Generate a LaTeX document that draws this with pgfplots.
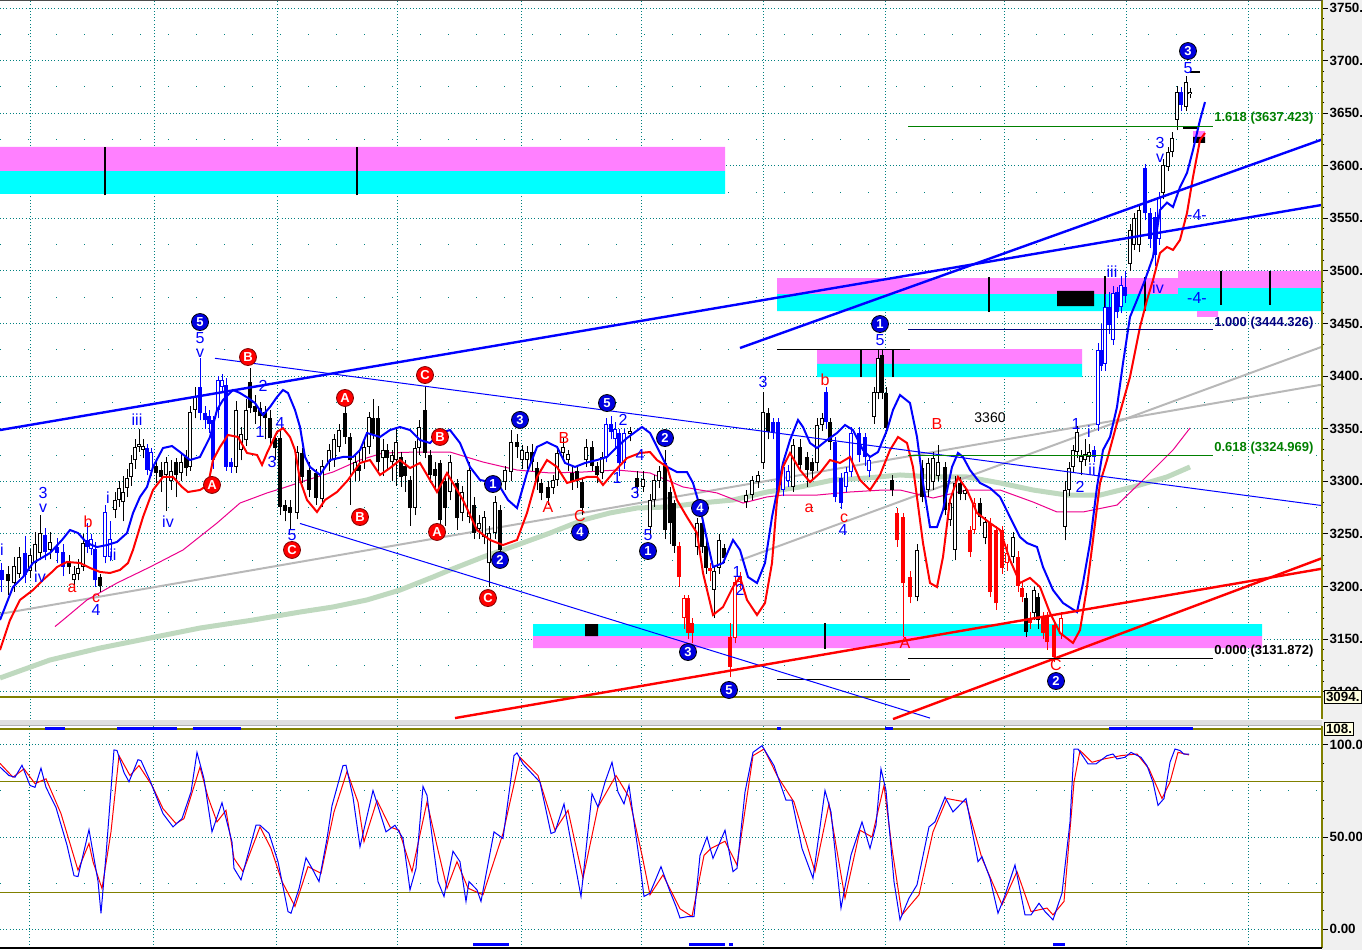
\documentclass[border=0pt]{standalone}
\usepackage{pgfplots}
\pgfplotsset{compat=1.18}
\usepackage{pgfplotstable}
\usepackage{fontspec}
\setmainfont{Liberation Sans}
\definecolor{zpink}{HTML}{FF80FF}
\definecolor{zcyan}{HTML}{00FFFF}
\definecolor{wblue}{HTML}{0000FF}
\definecolor{cblue}{HTML}{0000E0}
\definecolor{wred}{HTML}{FF0000}
\definecolor{gridc}{HTML}{008080}
\definecolor{olivec}{HTML}{808000}
\definecolor{grayl}{HTML}{B8B8B8}
\definecolor{greenma}{HTML}{BFD9BF}
\definecolor{fibgreen}{HTML}{008000}
\definecolor{navyc}{HTML}{000080}
\definecolor{panelgray}{HTML}{F0F0F0}
\definecolor{ybox}{HTML}{FFFFE1}
\tikzset{
  lb/.style={text=wblue, font=\fontsize{8}{8}\selectfont, inner sep=0pt},
  lr/.style={text=wred, font=\fontsize{8}{8}\selectfont, inner sep=0pt},
  lb2/.style={text=wblue, font=\fontsize{8}{7}\selectfont, inner sep=0pt, align=center},
  cb/.style={circle, fill=cblue, draw=black, line width=0.4pt, minimum size=8.5pt, inner sep=0pt, text=white, font=\bfseries\fontsize{6.5}{6.5}\selectfont},
  cr/.style={circle, fill=wred, draw=black!50!red, line width=0.4pt, minimum size=8.5pt, inner sep=0pt, text=white, font=\bfseries\fontsize{6.5}{6.5}\selectfont},
}
\pgfplotsset{
  eb/.style={only marks, mark=*, mark size=0pt, mark options={draw=none, fill=none}, error bars/y dir=plus, error bars/y explicit, error bars/error mark=none},
}
\pgfplotstableread{
x o h l c k
2 3216 3222 3195 3206 1
8 3212 3220 3192 3205 0
14 3203 3228 3195 3220 0
19 3212 3238 3208 3228 0
25 3232 3248 3203 3211 1
30 3215 3236 3208 3230 0
35 3222 3252 3215 3240 0
40 3232 3268 3225 3251 0
45 3249 3256 3225 3233 1
50 3235 3252 3226 3242 0
57 3238 3246 3222 3232 1
63 3233 3240 3210 3219 1
69 3223 3230 3212 3219 0
74 3206 3220 3200 3212 0
78 3212 3226 3206 3218 0
83 3219 3250 3215 3241 0
87 3244 3260 3232 3238 1
91 3236 3250 3230 3245 1
95 3236 3242 3200 3206 1
100 3209 3212 3195 3201 0
105 3228 3278 3222 3271 1
110 3228 3262 3224 3245 1
115 3273 3290 3265 3282 0
119 3282 3300 3276 3294 0
123 3280 3305 3262 3290 0
127 3294 3312 3285 3303 0
131 3304 3325 3296 3317 0
135 3320 3340 3312 3333 0
139 3333 3350 3328 3336 0
143 3330 3340 3322 3334 0
147 3332 3336 3306 3311 1
151 3310 3332 3305 3328 1
156 3315 3320 3298 3308 0
161 3311 3318 3290 3304 0
166 3306 3323 3272 3318 0
171 3300 3320 3292 3310 0
176 3318 3322 3285 3306 0
181 3308 3326 3300 3318 0
186 3323 3330 3305 3313 0
190 3314 3372 3310 3366 0
195 3368 3390 3360 3380 0
200 3390 3417 3358 3365 1
205 3365 3372 3350 3358 1
209 3362 3368 3346 3355 1
213 3358 3362 3312 3320 1
218 3368 3400 3360 3396 1
222 3390 3402 3385 3396 1
226 3392 3398 3310 3314 1
231 3318 3322 3308 3314 1
236 3314 3376 3308 3368 0
241 3330 3352 3320 3345 0
246 3339 3378 3334 3368 0
250 3394 3408 3365 3370 0
255 3372 3382 3355 3366 0
260 3370 3375 3350 3362 0
265 3366 3372 3340 3360 0
270 3360 3368 3335 3341 0
275 3341 3345 3320 3332 0
280 3341 3348 3268 3276 0
285 3278 3282 3262 3272 0
290 3276 3282 3255 3270 0
297 3270 3334 3264 3328 0
302 3327 3332 3298 3304 0
309 3311 3318 3285 3292 0
316 3308 3312 3278 3284 0
322 3283 3320 3276 3315 0
329 3318 3336 3310 3330 0
334 3320 3345 3314 3340 0
339 3333 3355 3328 3349 0
345 3365 3372 3336 3342 0
350 3342 3346 3278 3320 0
355 3310 3325 3300 3318 0
359 3316 3330 3300 3310 0
364 3318 3340 3312 3333 0
369 3333 3366 3326 3361 0
373 3360 3378 3340 3345 0
378 3360 3372 3310 3318 0
383 3322 3340 3305 3330 0
387 3330 3336 3312 3322 0
392 3318 3330 3300 3325 0
396 3320 3352 3296 3337 0
401 3323 3328 3295 3304 0
405 3315 3320 3290 3305 0
410 3301 3305 3258 3275 0
415 3275 3338 3268 3332 0
419 3332 3358 3325 3352 0
425 3368 3390 3322 3327 0
430 3325 3330 3298 3306 0
435 3312 3318 3292 3305 0
440 3317 3320 3255 3263 0
445 3300 3305 3258 3275 0
450 3290 3325 3282 3318 0
457 3298 3302 3254 3265 0
462 3270 3296 3262 3290 0
469 3266 3318 3260 3311 0
474 3278 3285 3245 3251 0
479 3255 3268 3245 3260 0
484 3247 3272 3240 3266 0
489 3222 3258 3200 3251 0
495 3251 3286 3245 3280 0
500 3273 3278 3228 3235 0
505 3299 3315 3292 3311 0
511 3309 3349 3300 3337 0
517 3337 3345 3322 3333 0
522 3320 3335 3312 3330 0
527 3320 3334 3312 3328 0
532 3328 3336 3310 3318 0
537 3313 3318 3292 3299 0
541 3298 3302 3282 3289 0
548 3295 3300 3278 3284 0
553 3294 3306 3288 3301 0
557 3301 3332 3296 3327 0
563 3327 3341 3320 3333 0
568 3320 3330 3310 3326 0
572 3308 3315 3292 3299 0
577 3310 3314 3294 3300 0
582 3299 3302 3268 3275 0
586 3320 3340 3314 3333 0
592 3333 3338 3310 3315 0
597 3315 3318 3298 3306 0
602 3308 3328 3302 3323 0
606 3323 3360 3318 3355 1
611 3355 3362 3340 3347 1
615 3340 3356 3332 3350 1
619 3346 3350 3305 3317 1
624 3317 3350 3312 3346 1
630 3345 3352 3338 3348 0
637 3303 3310 3286 3295 0
643 3295 3310 3290 3302 0
650 3257 3288 3250 3282 0
654 3282 3306 3276 3301 0
659 3300 3315 3294 3310 0
665 3317 3330 3245 3254 0
670 3290 3295 3240 3260 0
674 3279 3282 3232 3239 0
679 3239 3242 3200 3209 2
684 3170 3192 3160 3189 2
688 3189 3192 3150 3156 2
692 3165 3170 3146 3156 2
697 3238 3265 3230 3260 0
702 3260 3265 3232 3238 0
706 3239 3244 3212 3218 0
710 3218 3222 3205 3215 2
714 3197 3220 3170 3215 0
719 3218 3250 3212 3244 0
724 3237 3240 3222 3227 0
730 3152 3165 3114 3124 2
735 3151 3210 3146 3204 2
740 3204 3214 3198 3210 2
746 3280 3292 3275 3287 0
752 3287 3305 3282 3301 0
758 3299 3310 3294 3306 0
763 3317 3385 3312 3366 0
768 3365 3370 3340 3347 0
773 3356 3360 3340 3347 1
778 3356 3360 3286 3292 1
783 3292 3320 3286 3314 1
788 3300 3316 3295 3310 1
793 3295 3340 3290 3335 0
800 3333 3340 3310 3316 0
807 3323 3328 3295 3311 0
812 3318 3322 3300 3310 0
817 3317 3360 3310 3354 0
822 3354 3365 3348 3360 0
826 3385 3390 3350 3356 1
830 3356 3360 3330 3337 0
835 3337 3342 3280 3285 1
841 3303 3308 3274 3279 1
846 3295 3314 3290 3309 1
851 3309 3352 3304 3346 1
859 3346 3352 3318 3325 1
865 3342 3346 3315 3323 1
869 3310 3325 3304 3320 1
874 3361 3390 3355 3385 0
878 3384 3426 3378 3417 0
882 3420 3425 3378 3384 0
886 3384 3390 3345 3351 0
892 3301 3306 3286 3292 0
897 3270 3275 3238 3244 2
903 3266 3270 3152 3203 2
910 3209 3215 3184 3190 2
917 3190 3240 3186 3235 0
922 3313 3320 3280 3285 0
928 3292 3322 3285 3317 0
933 3299 3328 3292 3322 0
938 3305 3335 3300 3318 0
945 3314 3318 3268 3273 0
950 3263 3284 3258 3279 0
955 3235 3305 3225 3298 0
960 3298 3304 3282 3288 0
965 3288 3296 3282 3292 0
970 3254 3258 3228 3233 2
974 3254 3284 3250 3279 2
980 3279 3284 3258 3266 0
985 3246 3266 3240 3261 0
990 3260 3265 3190 3195 2
996 3254 3258 3178 3184 2
1002 3254 3258 3212 3218 2
1007 3222 3240 3215 3232 2
1013 3228 3252 3222 3247 0
1018 3228 3234 3195 3201 2
1022 3199 3204 3185 3190 2
1026 3189 3194 3152 3157 0
1030 3170 3176 3160 3165 2
1034 3175 3200 3168 3197 0
1038 3190 3194 3160 3168 0
1043 3171 3176 3150 3156 2
1047 3171 3176 3140 3147 2
1054 3163 3168 3128 3133 2
1061 3155 3176 3150 3170 2
1065 3257 3300 3244 3292 0
1069 3292 3318 3286 3313 0
1073 3314 3335 3308 3330 0
1077 3328 3353 3322 3347 0
1081 3318 3330 3306 3324 0
1085 3320 3340 3315 3326 0
1089 3323 3336 3318 3328 0
1094 3330 3334 3318 3323 1
1098 3354 3432 3348 3425 1
1101 3425 3450 3405 3410 1
1105 3412 3478 3405 3466 1
1109 3466 3480 3440 3449 1
1113 3434 3486 3430 3479 1
1117 3480 3485 3455 3461 1
1121 3466 3495 3460 3487 1
1125 3485 3500 3470 3476 1
1130 3507 3545 3500 3539 0
1134 3525 3555 3520 3550 0
1139 3525 3562 3518 3558 0
1145 3598 3602 3548 3555 1
1150 3555 3560 3522 3530 1
1155 3551 3556 3505 3515 1
1159 3530 3575 3525 3570 1
1163 3574 3606 3568 3601 0
1168 3599 3618 3595 3613 0
1172 3613 3632 3608 3626 0
1177 3644 3676 3634 3670 0
1181 3670 3675 3652 3658 1
1186 3656 3685 3652 3680 0
1190 3668 3674 3664 3670 0
}\candles
\pgfplotstableread{
x b t
105 3572 3618
357 3572 3618
989 3461 3494
1105 3466 3495
1145 3462 3494
1221 3468 3500
1270 3468 3500
861 3399 3425
893 3399 3425
825 3141 3165
}\zoneticks
\begin{document}
\begin{tikzpicture}
\useasboundingbox (0,0) rectangle (681pt,-475pt);
\fill[panelgray] (661pt,0) rectangle (681pt,-475pt);
\fill[gray!25] (0,-359.75pt) rectangle (661pt,-363pt);
\draw[gray!60, line width=0.5pt] (0,-362.5pt) -- (661pt,-362.5pt);
\begin{axis}[
  at={(0pt,0pt)}, anchor=north west,
  scale only axis, width=661pt, height=359.5pt,
  xmin=0, xmax=1322, ymin=3074.1, ymax=3757.6,
  clip mode=individual,
  axis line style={draw=none},
  xtick={30,154,277,397,521,641,763,885,1004,1126,1248},
  xticklabels={}, xtick style={draw=none},
  ytick={3100,3150,3200,3250,3300,3350,3400,3450,3500,3550,3600,3650,3700,3750},
  yticklabels={3100.,3150.,3200.,3250.,3300.,3350.,3400.,3450.,3500.,3550.,3600.,3650.,3700.,3750.},
  ytick pos=right, yticklabel pos=right, tick align=outside,
  ytick style={black, line width=0.5pt},
  major tick length=3pt, minor tick length=1.2pt,
  minor y tick num=4,
  yticklabel style={font=\bfseries\fontsize{6.7}{6.7}\selectfont, inner sep=0.6pt},
  xmajorgrids, ymajorgrids,
  major grid style={draw=gridc, dash pattern=on 0.5pt off 1.1pt, line width=0.5pt},
  extra y ticks={3125,3175,3225,3275,3325,3375,3425,3475,3525,3575,3625,3675,3725},
  extra y tick labels={},
  extra y tick style={ymajorgrids=true, major tick length=0pt, major grid style={draw=gridc, dash pattern=on 0.6pt off 13.4pt, line width=0.5pt}},
]
% zones
\addplot[fill=zpink, draw=none] coordinates {(0,3595) (725,3595) (725,3617.9) (0,3617.9) (0,3595)};
\addplot[fill=zcyan, draw=none] coordinates {(0,3573.2) (725,3573.2) (725,3595) (0,3595) (0,3573.2)};
\addplot[fill=zpink, draw=none] coordinates {(777,3478.1) (1178,3478.1) (1178,3493.3) (777,3493.3) (777,3478.1)};
\addplot[fill=zcyan, draw=none] coordinates {(777,3461.9) (1178,3461.9) (1178,3478.1) (777,3478.1) (777,3461.9)};
\addplot[fill=zpink, draw=none] coordinates {(1178,3483.8) (1322,3483.8) (1322,3500) (1178,3500) (1178,3483.8)};
\addplot[fill=zcyan, draw=none] coordinates {(1178,3461.9) (1322,3461.9) (1322,3483.8) (1178,3483.8) (1178,3461.9)};
\addplot[fill=zpink, draw=none] coordinates {(1197,3456.3) (1218,3456.3) (1218,3461.9) (1197,3461.9) (1197,3456.3)};
\addplot[fill=zpink, draw=none] coordinates {(817,3411.6) (1082,3411.6) (1082,3425.8) (817,3425.8) (817,3411.6)};
\addplot[fill=zcyan, draw=none] coordinates {(817,3399.2) (1082,3399.2) (1082,3411.6) (817,3411.6) (817,3399.2)};
\addplot[fill=zcyan, draw=none] coordinates {(533,3153) (1262,3153) (1262,3164.4) (533,3164.4) (533,3153)};
\addplot[fill=zpink, draw=none] coordinates {(533,3141.6) (1262,3141.6) (1262,3153) (533,3153) (533,3141.6)};
\addplot[fill=black, draw=none] coordinates {(585,3153) (598,3153) (598,3164.4) (585,3164.4) (585,3153)};
\addplot[fill=black, draw=none] coordinates {(1057,3466.7) (1094,3466.7) (1094,3481) (1057,3481) (1057,3466.7)};
\addplot[fill=zpink, draw=none] coordinates {(1193,3627.4) (1205,3627.4) (1205,3633) (1193,3633) (1193,3627.4)};
\addplot[fill=black, draw=none] coordinates {(1193,3621.7) (1205,3621.7) (1205,3627.4) (1193,3627.4) (1193,3621.7)};
\addplot[eb, error bars/error bar style={draw=black, line width=1.3pt, solid}] table[x=x, y=b, y error plus expr={\thisrow{t}-\thisrow{b}}] {\zoneticks};
\addplot[black, line width=0.5pt] coordinates {(777,3424.9) (910,3424.9)};
\addplot[black, line width=0.5pt] coordinates {(777,3111.2) (910,3111.2)};
\addplot[black, line width=0.9pt] coordinates {(1183,3635.9) (1197,3635.9)};
\addplot[black, line width=0.8pt] coordinates {(1190,3689) (1200,3689)};
% olive base line
\addplot[olivec, line width=0.6pt] coordinates {(0,3095) (1322,3095)};
% green MA
\addplot[greenma, line width=2.5pt] coordinates {(0,3113.1) (50,3130.2) (100,3141.6) (150,3151.1) (200,3160.6) (253,3168.2) (300,3175.8) (333,3180.6) (367,3187.3) (400,3196.7) (433,3209.1) (450,3215.8) (483,3228.1) (517,3239.5) (550,3250.9) (583,3263.3) (610,3270) (637,3274.7) (667,3275.6) (700,3279.4) (733,3282.3) (767,3289.9) (800,3294.7) (833,3301.3) (867,3303.2) (900,3306.1) (933,3304.2) (967,3304.2) (1000,3298.5) (1033,3291.8) (1067,3287) (1100,3287) (1133,3294.7) (1167,3304.2) (1190,3313.7)};
% gray lines
\addplot[grayl, line width=1pt] coordinates {(0,3174) (1322,3392)};
\addplot[grayl, line width=1pt] coordinates {(740,3225) (1322,3428)};
% magenta MA
\addplot[magenta, line width=0.5pt] coordinates {(55,3162) (63,3168.2) (87,3187.3) (117,3203.4) (150,3218.6) (183,3234.8) (217,3260.4) (240,3279.4) (267,3289) (283,3293.7) (307,3301.3) (333,3308.9) (360,3320.3) (383,3327) (417,3327.9) (450,3327.9) (483,3318.4) (517,3310.8) (550,3308) (583,3308.9) (617,3310.8) (650,3308) (683,3294.7) (717,3289) (743,3279.4) (767,3285.2) (783,3287) (817,3287) (850,3289.9) (883,3291.8) (900,3291.8) (933,3284.2) (967,3291.8) (1000,3291.8) (1033,3280.4) (1057,3270.9) (1083,3270.9) (1117,3277.5) (1143,3301.3) (1160,3317.5) (1173,3329.8) (1190,3350.7)};
% candles: wicks
\addplot[eb, restrict expr to domain={\thisrow{k}}{-0.5:0.5}, error bars/error bar style={draw=black, line width=0.5pt, solid}] table[x=x, y=l, y error plus expr={\thisrow{h}-\thisrow{l}}] {\candles};
\addplot[eb, restrict expr to domain={\thisrow{k}}{0.5:1.5}, error bars/error bar style={draw=wblue, line width=0.5pt, solid}] table[x=x, y=l, y error plus expr={\thisrow{h}-\thisrow{l}}] {\candles};
\addplot[eb, restrict expr to domain={\thisrow{k}}{1.5:2.5}, error bars/error bar style={draw=wred, line width=0.5pt, solid}] table[x=x, y=l, y error plus expr={\thisrow{h}-\thisrow{l}}] {\candles};
% bodies
\addplot[eb, restrict expr to domain={\thisrow{k}}{-0.5:0.5}, error bars/error bar style={draw=black, line width=1.7pt, solid}] table[x=x, y expr={min(\thisrow{o},\thisrow{c})}, y error plus expr={abs(\thisrow{c}-\thisrow{o})}] {\candles};
\addplot[eb, restrict expr to domain={\thisrow{k}}{0.5:1.5}, error bars/error bar style={draw=wblue, line width=1.7pt, solid}] table[x=x, y expr={min(\thisrow{o},\thisrow{c})}, y error plus expr={abs(\thisrow{c}-\thisrow{o})}] {\candles};
\addplot[eb, restrict expr to domain={\thisrow{k}}{1.5:2.5}, error bars/error bar style={draw=wred, line width=1.7pt, solid}] table[x=x, y expr={min(\thisrow{o},\thisrow{c})}, y error plus expr={abs(\thisrow{c}-\thisrow{o})}] {\candles};
% hollow insides
\addplot[eb, restrict expr to domain={\thisrow{c}-\thisrow{o}}{2:10000}, error bars/error bar style={draw=white, line width=0.8pt, solid}] table[x=x, y expr={\thisrow{o}+0.95}, y error plus expr={\thisrow{c}-\thisrow{o}-1.9}] {\candles};
% blue MA
\addplot[wblue, line width=1pt] coordinates {(0,3168.2) (13,3199.6) (23,3209.1) (33,3222.4) (50,3231.9) (62,3244.3) (70,3253.8) (78,3250.9) (87,3241.4) (97,3237.6) (107,3239.5) (117,3242.4) (127,3250.9) (133,3269.9) (140,3285.2) (147,3294.7) (153,3313.7) (163,3331.7) (172,3333.6) (180,3327.9) (190,3320.3) (200,3323.2) (210,3342.2) (217,3367.9) (223,3377.4) (233,3386.9) (240,3384) (248,3379.3) (255,3374.5) (263,3363.1) (270,3370.7) (277,3380.2) (283,3386.9) (288,3384) (295,3367.9) (300,3351.7) (305,3323.2) (310,3313.7) (320,3306.1) (330,3320.3) (343,3323.2) (353,3323.2) (360,3329.8) (367,3346) (380,3342.2) (390,3348.8) (400,3351.7) (410,3348.8) (420,3339.3) (430,3336.5) (440,3346) (450,3348.8) (460,3336.5) (470,3313.7) (480,3301.3) (490,3299.4) (500,3294.7) (508,3282.3) (517,3274.7) (527,3308) (537,3332.7) (547,3337.4) (557,3332.7) (565,3317.5) (575,3313.7) (585,3317.5) (597,3320.3) (607,3323.2) (617,3332.7) (627,3341.2) (642,3351.7) (650,3346) (660,3327) (667,3313.7) (677,3308.9) (687,3308.9) (693,3298.5) (700,3275.6) (707,3244.3) (713,3218.6) (723,3222.4) (733,3244.3) (740,3234.8) (748,3209.1) (757,3203.4) (765,3222.4) (772,3266.1) (778,3294.7) (783,3317.5) (790,3339.3) (798,3358.4) (803,3351.7) (810,3336.5) (817,3331.7) (827,3339.3) (837,3346) (845,3353.6) (853,3348.8) (863,3329.8) (870,3323.2) (878,3327.9) (887,3348.8) (893,3367.9) (900,3382.1) (910,3374.5) (917,3342.2) (923,3298.5) (930,3256.6) (937,3256.6) (943,3272.8) (952,3313.7) (958,3327) (963,3323.2) (970,3310.8) (980,3298.5) (990,3293.7) (1000,3285.2) (1010,3266.1) (1020,3247.1) (1027,3241.4) (1037,3237.6) (1043,3218.6) (1053,3196.7) (1063,3184.4) (1077,3175.8) (1083,3203.4) (1090,3241.4) (1097,3294.7) (1103,3329.8) (1110,3342.2) (1117,3370.7) (1123,3412.5) (1130,3456.3) (1137,3472.4) (1145,3491.4) (1153,3513.3) (1160,3558) (1167,3565) (1173,3560.8) (1180,3579.8) (1187,3593.2) (1193,3615) (1200,3643.5) (1205,3660.6)};
% red MA
\addplot[wred, line width=1pt] coordinates {(0,3139.7) (10,3168.2) (20,3187.3) (33,3196.7) (43,3206.3) (52,3213.9) (57,3218.6) (67,3223.4) (80,3222.4) (90,3217.7) (100,3213.9) (110,3212.9) (120,3215.8) (128,3222.4) (133,3234.8) (143,3266.1) (153,3291.8) (163,3304.2) (173,3304.2) (182,3294.7) (188,3289.9) (200,3291.8) (208,3296.6) (213,3320.3) (220,3332.7) (228,3344.1) (238,3342.2) (247,3327) (257,3325.1) (262,3315.6) (267,3327) (277,3346.9) (283,3350.7) (290,3342.2) (295,3329.8) (300,3301.3) (307,3282.3) (317,3270.9) (325,3282.3) (337,3289.9) (348,3301.3) (360,3317.5) (370,3320.3) (380,3306.1) (390,3312.7) (400,3320.3) (410,3312.7) (420,3317.5) (430,3301.3) (437,3289.9) (447,3307.9) (463,3282.3) (477,3253.8) (490,3244.3) (503,3239.5) (517,3244.3) (527,3270) (537,3304.2) (547,3320.3) (557,3313.7) (567,3298.5) (577,3301.3) (587,3304.2) (597,3304.2) (603,3296.6) (613,3308) (627,3322.2) (640,3327) (650,3327.9) (657,3320.3) (667,3313.7) (677,3282.3) (687,3266.1) (697,3250.9) (703,3212.9) (713,3173) (723,3180.6) (733,3199.6) (740,3209.1) (747,3187.3) (757,3173) (765,3184.4) (772,3222.4) (777,3282.3) (783,3313.7) (790,3327) (800,3310.8) (810,3299.4) (820,3308) (830,3320.3) (840,3317.5) (850,3323.2) (860,3301.3) (870,3291.8) (880,3306.1) (890,3329.8) (898,3342.2) (907,3336.5) (913,3313.7) (923,3241.4) (930,3203.4) (937,3199.6) (943,3228.1) (950,3282.3) (958,3304.2) (967,3291.8) (977,3270) (990,3260.4) (1000,3253.8) (1010,3225.3) (1020,3203.4) (1030,3208.2) (1040,3199.6) (1050,3174.9) (1060,3155.9) (1073,3146.4) (1080,3158.7) (1087,3199.6) (1093,3244.3) (1100,3298.5) (1107,3320.3) (1117,3355.5) (1130,3399.2) (1140,3446.8) (1147,3472.4) (1153,3491.4) (1160,3517.1) (1167,3522.8) (1173,3520) (1180,3529.5) (1187,3555.1) (1193,3589.4) (1200,3624.5) (1205,3631.2)};
% trend lines
\addplot[wblue, line width=1.2pt] coordinates {(0,3348.8) (1322,3562.8)};
\addplot[wblue, line width=1.2pt] coordinates {(740,3426.8) (1322,3625)};
\addplot[wblue, line width=0.5pt] coordinates {(215,3417) (1322,3277)};
\addplot[wblue, line width=0.5pt] coordinates {(300,3260) (930,3075)};
\addplot[wred, line width=1.2pt] coordinates {(455,3075) (1322,3217)};
\addplot[wred, line width=1.2pt] coordinates {(893,3074) (1322,3227)};
% fib lines
\addplot[fibgreen, line width=0.5pt] coordinates {(908,3637.4) (1213,3637.4)};
\addplot[navyc, line width=0.5pt] coordinates {(908,3444.3) (1213,3444.3)};
\addplot[fibgreen, line width=0.5pt] coordinates {(908,3325) (1213,3325)};
\addplot[black, line width=0.5pt] coordinates {(908,3131.9) (1213,3131.9)};
\node[anchor=west, text=fibgreen, font=\bfseries\fontsize{6.5}{6.5}\selectfont, inner sep=0pt] at (axis cs:1214,3645.4) {1.618 (3637.423)};
\node[anchor=west, text=navyc, font=\bfseries\fontsize{6.5}{6.5}\selectfont, inner sep=0pt] at (axis cs:1214,3450.6) {1.000 (3444.326)};
\node[anchor=west, text=fibgreen, font=\bfseries\fontsize{6.5}{6.5}\selectfont, inner sep=0pt] at (axis cs:1214,3331.7) {0.618 (3324.969)};
\node[anchor=west, text=black, font=\bfseries\fontsize{6.5}{6.5}\selectfont, inner sep=0pt] at (axis cs:1214,3138.8) {0.000 (3131.872)};
\node[font=\fontsize{7}{7}\selectfont, inner sep=0pt] at (axis cs:990,3360.3) {3360};
% circled labels
\node[cb] at (axis cs:200,3451.5) {5};
\node[cb] at (axis cs:520,3358.4) {3};
\node[cb] at (axis cs:607,3374.5) {5};
\node[cb] at (axis cs:665,3341.2) {2};
\node[cb] at (axis cs:493,3297.5) {1};
\node[cb] at (axis cs:500,3225.3) {2};
\node[cb] at (axis cs:580,3251.9) {4};
\node[cb] at (axis cs:648,3233.8) {1};
\node[cb] at (axis cs:700,3274.7) {4};
\node[cb] at (axis cs:688,3137.8) {3};
\node[cb] at (axis cs:729,3101.7) {5};
\node[cb] at (axis cs:880,3449.6) {1};
\node[cb] at (axis cs:1056,3110.2) {2};
\node[cb] at (axis cs:1188,3709.1) {3};
\node[cr] at (axis cs:248,3418.2) {B};
\node[cr] at (axis cs:212,3296.6) {A};
\node[cr] at (axis cs:292,3234.8) {C};
\node[cr] at (axis cs:345,3379.3) {A};
\node[cr] at (axis cs:360,3266.1) {B};
\node[cr] at (axis cs:425,3401.1) {C};
\node[cr] at (axis cs:440,3342.2) {B};
\node[cr] at (axis cs:437,3251.9) {A};
\node[cr] at (axis cs:488,3189.1) {C};
% plain labels
\node[lb2] at (axis cs:43,3282) {3\\v};
\node[lb] at (axis cs:40,3209.1) {iv};
\node[lb] at (axis cs:2,3234.8) {i};
\node[lb] at (axis cs:96,3177.7) {4};
\node[lb] at (axis cs:113,3230) {ii};
\node[lb] at (axis cs:108,3284.2) {i};
\node[lb] at (axis cs:137,3358.4) {iii};
\node[lb] at (axis cs:168,3261.4) {iv};
\node[lb2] at (axis cs:200,3429.6) {5\\v};
\node[lb] at (axis cs:263,3390.7) {2};
\node[lb] at (axis cs:260,3346.9) {1};
\node[lb] at (axis cs:280,3355.5) {4};
\node[lb] at (axis cs:272,3318.4) {3};
\node[lb] at (axis cs:292,3249) {5};
\node[lb] at (axis cs:623,3358.4) {2};
\node[lb] at (axis cs:640,3325.1) {4};
\node[lb] at (axis cs:617,3303.2) {1};
\node[lb] at (axis cs:635,3289) {3};
\node[lb] at (axis cs:648,3249) {5};
\node[lb] at (axis cs:737,3213.9) {1};
\node[lb] at (axis cs:740,3196.7) {2};
\node[lb] at (axis cs:763,3394.5) {3};
\node[lb] at (axis cs:843,3253.8) {4};
\node[lb] at (axis cs:880,3434.4) {5};
\node[lb] at (axis cs:1076,3354.5) {1};
\node[lb] at (axis cs:1080,3294.7) {2};
\node[lb] at (axis cs:1089,3346.9) {i};
\node[lb] at (axis cs:1092,3310.8) {ii};
\node[lb] at (axis cs:1112,3499) {iii};
\node[lb] at (axis cs:1158,3483.8) {iv};
\node[lb2] at (axis cs:1160,3615) {3\\v};
\node[lb] at (axis cs:1188,3693) {5};
\node[lb] at (axis cs:1197,3474.3) {-4-};
\node[lb] at (axis cs:1197,3553.2) {-4-};
\node[lr] at (axis cs:72,3198.7) {a};
\node[lr] at (axis cs:88,3261.4) {b};
\node[lr] at (axis cs:96,3189.1) {c};
\node[lr] at (axis cs:548,3275.6) {A};
\node[lr] at (axis cs:564,3341.2) {B};
\node[lr] at (axis cs:580,3267.1) {C};
\node[lr] at (axis cs:809,3274.7) {a};
\node[lr] at (axis cs:825,3396.4) {b};
\node[lr] at (axis cs:844,3265.2) {c};
\node[lr] at (axis cs:937,3354.5) {B};
\node[lr] at (axis cs:905,3146.4) {A};
\node[lr] at (axis cs:1056,3125.5) {C};
% frame
\draw[olivec, line width=0.6pt] (rel axis cs:1,0) -- (rel axis cs:1,1);
\draw[black!70, line width=0.5pt] (rel axis cs:0,1) -- (rel axis cs:1,1);
\node[anchor=west, fill=ybox, draw=black, line width=0.4pt, inner sep=0.8pt, font=\bfseries\fontsize{6.7}{6.7}\selectfont] at (axis cs:1324,3095) {3094.};
\end{axis}
\begin{axis}[
  at={(0pt,-363pt)}, anchor=north west,
  scale only axis, width=661pt, height=111pt,
  xmin=0, xmax=1322, ymin=-10.3, ymax=110.3,
  clip mode=individual,
  axis line style={draw=none},
  xtick={30,154,277,397,521,641,763,885,1004,1126,1248},
  xticklabels={}, xtick style={draw=none},
  ytick={0,50,100}, yticklabels={0.00,50.00,100.0},
  ytick pos=right, yticklabel pos=right, tick align=outside,
  ytick style={black, line width=0.5pt},
  major tick length=3pt, minor tick length=1.2pt,
  minor y tick num=4,
  yticklabel style={font=\bfseries\fontsize{6.7}{6.7}\selectfont, inner sep=0.6pt},
  xmajorgrids, ymajorgrids,
  major grid style={draw=gridc, dash pattern=on 0.5pt off 1.1pt, line width=0.5pt},
  extra y ticks={25,75}, extra y tick labels={},
  extra y tick style={ymajorgrids=true, major tick length=0pt, major grid style={draw=gridc, dash pattern=on 0.6pt off 13.4pt, line width=0.5pt}},
]
\addplot[olivec, line width=0.6pt] coordinates {(0,80) (1322,80)};
\addplot[olivec, line width=0.6pt] coordinates {(0,20) (1322,20)};
\addplot[olivec, line width=0.6pt] coordinates {(0,108.7) (1322,108.7)};
\addplot[wblue, line width=1.5pt, unbounded coords=jump] coordinates {(45,108.9) (65,108.9) (65,nan) (117,108.9) (177,108.9) (177,nan) (193,108.9) (241,108.9) (241,nan) (777,108.9) (781,108.9) (781,nan) (885,108.9) (893,108.9) (893,nan) (1109,108.9) (1193,108.9)};
\addplot[wblue, line width=1.5pt, unbounded coords=jump] coordinates {(473,-8.2) (509,-8.2) (509,nan) (689,-8.2) (725,-8.2) (725,nan) (729,-8.2) (733,-8.2) (733,nan) (1053,-8.2) (1065,-8.2)};
\addplot[wred, line width=0.5pt] coordinates {(0,90) (13,82.5) (24,87) (35,79) (46,81.6) (61,62.7) (78,32) (89,46.5) (93,36.6) (102,22) (111,52.8) (119,94.2) (130,83.4) (139,88.8) (152,78) (163,65.4) (176,57.3) (184,60) (200,88) (208,71.7) (217,58.2) (226,64.5) (234,38.4) (243,31.2) (260,55.5) (271,43.8) (282,25.8) (295,12.3) (308,33.9) (321,30.3) (334,63.6) (347,85.6) (358,69) (364,47.4) (377,69.9) (390,55.5) (399,53.7) (412,31.2) (427,69) (438,42.9) (447,22.2) (457,36.6) (468,22.2) (483,18.6) (503,51.9) (520,93.3) (538,83.4) (555,53.7) (568,64.5) (583,27.6) (598,66.3) (616,83.4) (629,71.7) (642,40.2) (650,18.6) (663,29.4) (680,11) (692,6.8) (704,40) (711,43.8) (725,47.7) (737,34.8) (753,94.2) (764,97.8) (778,82.5) (794,69) (815,31.2) (829,68) (845,16.8) (860,53.7) (872,50) (884,78) (892,43.8) (902,7.7) (919,18.6) (933,52.8) (947,70.9) (966,69) (982,38.4) (1002,13.2) (1017,31.2) (1031,9.5) (1047,11.4) (1053,7.7) (1064,15) (1074,79.8) (1080,97) (1092,90.6) (1104,92.4) (1121,94.2) (1137,95.1) (1149,87) (1162,70.9) (1170,79.8) (1178,96) (1189,94.6)};
\addplot[wblue, line width=0.5pt] coordinates {(0,88) (9,83.4) (15,82.5) (22,89) (30,78) (35,77) (41,87.4) (46,77) (56,66) (67,45.6) (74,29) (78,28.5) (89,54) (98,26) (101,8.6) (106,40) (114,97.3) (117,97) (124,85) (129,80) (138,92) (141,91.5) (150,80.7) (163,62.7) (173,55.5) (182,60) (191,74.4) (197,96) (204,81.6) (212,52.8) (222,68.6) (232,47.4) (234,33) (241,26.7) (256,56.4) (260,56.4) (269,52) (278,36.6) (288,9.5) (291,8.6) (299,22) (306,38.7) (312,33) (319,25.8) (327,49) (332,67) (343,88.8) (346,89) (353,71.7) (360,44.7) (373,75.3) (386,52.8) (395,56.4) (403,49.2) (410,21.3) (416,33) (423,77.5) (427,72.6) (434,42) (438,25.8) (444,17.7) (453,42.3) (460,36.6) (466,15) (469,25.8) (477,21.3) (481,15) (494,52.8) (503,49.2) (514,94.2) (517,95.7) (523,89.7) (540,79.8) (551,51.9) (555,52.8) (564,68) (581,17.7) (592,73.5) (598,66.3) (605,79.8) (612,90.6) (618,74.4) (624,68) (629,78) (640,34.8) (644,17.7) (650,19.5) (661,33.9) (670,20.4) (676,12.3) (680,6) (688,6.8) (694,6.8) (700,40) (707,50) (713,38.4) (725,53.7) (733,31.2) (737,33) (745,74.4) (753,96) (762,99.6) (774,88.8) (786,70) (792,70) (802,43.8) (813,27.6) (825,75.3) (831,63.6) (841,11.4) (851,40.2) (862,58.2) (870,43.8) (876,56.4) (881,87) (886,75.3) (894,25.8) (900,5) (909,16.8) (917,24) (929,55.5) (935,58.2) (945,71.7) (953,63.6) (966,70.9) (978,36.6) (982,39.3) (990,27.6) (998,8.6) (1004,16.8) (1015,34.8) (1025,7.7) (1031,7.7) (1039,14) (1045,9.5) (1053,5) (1062,19.5) (1070,58.2) (1074,97.8) (1078,97.8) (1088,89.7) (1096,89.7) (1107,94.2) (1113,95.1) (1117,92.4) (1125,93.3) (1131,96) (1141,93.3) (1147,88.8) (1153,79.8) (1158,67.2) (1164,70.9) (1170,90.6) (1175,97.8) (1180,97) (1184,95) (1189,95)};
\draw[olivec, line width=0.6pt] (rel axis cs:1,0) -- (rel axis cs:1,1);
\draw[black, line width=0.8pt] (rel axis cs:0,0) -- (rel axis cs:1,0);
\node[anchor=west, fill=ybox, draw=black, line width=0.4pt, inner sep=0.8pt, font=\bfseries\fontsize{6.7}{6.7}\selectfont] at (axis cs:1324,108.7) {108.};
\end{axis}
\end{tikzpicture}
\end{document}
